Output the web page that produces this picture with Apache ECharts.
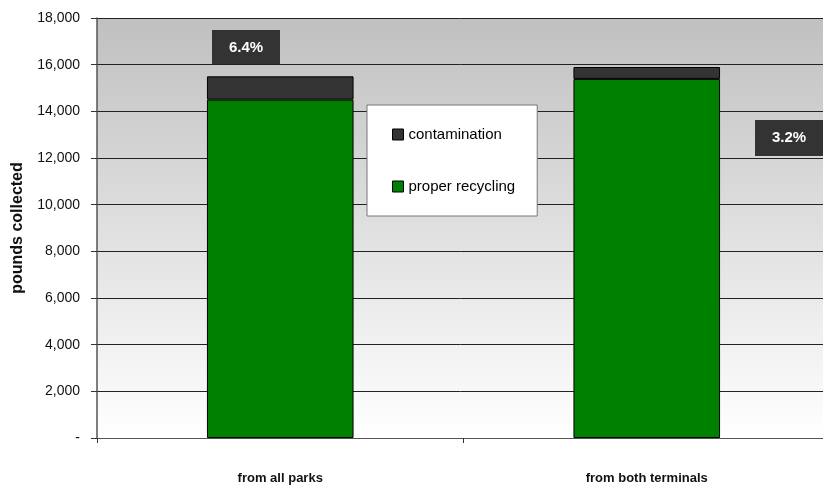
<!DOCTYPE html>
<html><head><meta charset="utf-8">
<script src="https://cdn.jsdelivr.net/npm/echarts@6/dist/echarts.min.js"></script>
<style>html,body{margin:0;padding:0;background:#fff}#c{width:823px;height:490px}</style>
</head><body><div id="c"></div>
<script>
const categories = ['from all parks', 'from both terminals'];
const properRecycling = [14500, 15390];
const contamination = [1000, 510];
const pctLabels = ['6.4%', '3.2%'];
const yTicks = [0, 2000, 4000, 6000, 8000, 10000, 12000, 14000, 16000, 18000];

const FONT = "'Liberation Sans Narrow','Arial Narrow','Liberation Sans',Arial,sans-serif";
const chart = echarts.init(document.getElementById('c'));
function fmt(v){ return v === 0 ? '-' : v.toLocaleString('en-US'); }
chart.setOption({
  animation: false,
  grid: { left: 97, top: 18, width: 733, height: 420, show: true, borderWidth: 0,
    outerBoundsMode: 'none', containLabel: false,
    backgroundColor: new echarts.graphic.LinearGradient(0,0,0,1,[{offset:0,color:'#c0c0c0'},{offset:1,color:'#ffffff'}]) },
  legend: {
    data: ['contamination', 'proper recycling'],
    orient: 'vertical', left: 367, top: 105,
    backgroundColor: '#fff', borderColor: '#777', borderWidth: 1,
    padding: [22, 22, 22, 25], itemGap: 37, itemWidth: 11, itemHeight: 11,
    icon: 'rect',
    textStyle: { fontFamily: FONT, fontSize: 15, color: '#000' },
    itemStyle: { borderColor: '#000', borderWidth: 1 }
  },
  xAxis: {
    type: 'category', data: categories,
    axisLine: { lineStyle: { color: '#555', width: 1 } },
    axisTick: { show: true, length: 5, lineStyle: { color: '#333' } },
    axisLabel: { fontFamily: FONT, fontWeight: 'bold', fontSize: 13, color: '#111', margin: 34 }
  },
  yAxis: {
    type: 'value', min: 0, max: 18000, interval: 2000,
    name: 'pounds collected', nameLocation: 'middle', nameGap: 71, nameRotate: 90,
    nameTextStyle: { fontFamily: FONT, fontWeight: 'bold', fontSize: 16, color: '#111' },
    axisLine: { show: true, lineStyle: { color: '#555', width: 1.5 } },
    axisTick: { show: true, length: 6, lineStyle: { color: '#333' } },
    axisLabel: { fontFamily: FONT, fontSize: 14, color: '#111', margin: 17,
      formatter: v => yTicks.includes(v) ? fmt(v) : '' },
    splitLine: { lineStyle: { color: '#222', width: 1 } }
  },
  series: [
    { name: 'proper recycling', type: 'bar', stack: 'a', data: properRecycling, barWidth: '40%',
      itemStyle: { color: '#008000', borderColor: '#000', borderWidth: 1 } },
    { name: 'contamination', type: 'bar', stack: 'a', data: contamination, barWidth: '40%',
      itemStyle: { color: '#333333', borderColor: '#000', borderWidth: 1 } }
  ],
  graphic: [
    { type: 'group', left: 212, top: 30, children: [
      { type: 'rect', shape: { x: 0, y: 0, width: 68, height: 35 }, style: { fill: '#333333' } },
      { type: 'text', x: 34, y: 17.5, style: { text: pctLabels[0], fill: '#fff', font: "bold 15px " + FONT, align: 'center', verticalAlign: 'middle' } }
    ]},
    { type: 'group', left: 755, top: 120, children: [
      { type: 'rect', shape: { x: 0, y: 0, width: 68, height: 36 }, style: { fill: '#333333' } },
      { type: 'text', x: 34, y: 18, style: { text: pctLabels[1], fill: '#fff', font: "bold 15px " + FONT, align: 'center', verticalAlign: 'middle' } }
    ]}
  ]
});
</script></body></html>
